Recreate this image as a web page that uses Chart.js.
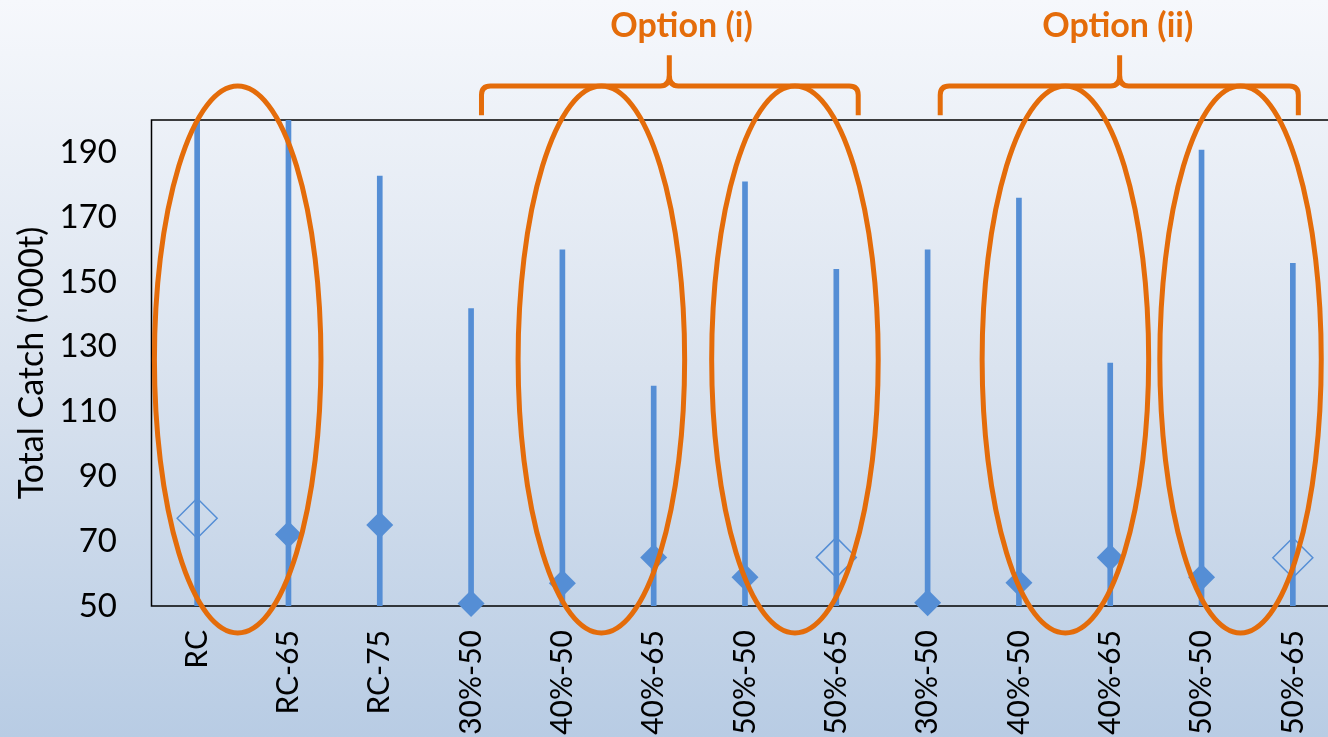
<!DOCTYPE html>
<html>
<head>
<meta charset="utf-8">
<script src="https://cdn.jsdelivr.net/npm/chart.js@4.4.1/dist/chart.umd.min.js"></script>
<style>
  html, body { margin: 0; padding: 0; width: 1328px; height: 737px; overflow: hidden; }
  body { background: linear-gradient(to bottom, #f6f8fc 0%, #dae3ef 50%, #b8cce4 100%); }
  #chart { display: block; }
</style>
</head>
<body>
<canvas id="chart" width="1360" height="760"></canvas>
<script>
// scenario labels along the x axis
const categories = ["RC", "RC-65", "RC-75", "30%-50", "40%-50", "40%-65", "50%-50", "50%-65",
  "30%-50", "40%-50", "40%-65", "50%-50", "50%-65"];
// total catch range ('000t) for each scenario
const rangeLow = [49.3, 49.3, 49.3, 49.3, 49.3, 49.3, 49.3, 49.3, 49.3, 49.3, 49.3, 49.3, 49.3];
const rangeHigh = [200, 200, 182.7, 141.8, 159.9, 117.9, 180.9, 153.9, 159.9, 175.9, 125.0, 190.7, 155.8];
// median markers: filled diamonds and open diamonds
const medianFilled = [null, 72.1, 75.0, 50.8, 57.0, 65.0, 58.9, null, 51.0, 57.2, 65.0, 58.9, null];
const medianOpen = [77.1, null, null, null, null, null, null, 65.0, null, null, null, null, 64.9];
const yTickValues = [50, 70, 90, 110, 130, 150, 170, 190];

// annotation shapes, in category-index / value units
const ellipseCenters = [0.444, 4.427, 6.547, 9.509, 11.427];
const ellipseHalfWidths = [0.912, 0.912, 0.912, 0.912, 0.884];
const ellipseMidValue = 126.1;
const ellipseHalfValue = 84.4;
const bracketLabels = ["Option (i)", "Option (ii)"];
const bracketLeft = [3.114, 8.138];
const bracketRight = [7.24, 12.06];
const bracketTip = [5.171, 10.103];
const bracketTextX = [5.305, 10.082];

const BLUE = "#558ED5";
const ORANGE = "#E46C0A";
const FONT = "Lato, 'Liberation Sans', sans-serif";

const plotBox = {
  id: "plotBox",
  beforeDatasetsDraw(chart) {
    const { ctx, chartArea: a } = chart;
    ctx.save();
    ctx.strokeStyle = "#000";
    ctx.lineWidth = 1.5;
    ctx.strokeRect(a.left, a.top, a.right - a.left, a.bottom - a.top);
    ctx.restore();
  },
};

const annotations = {
  id: "annotations",
  afterDraw(chart) {
    const { ctx } = chart;
    const x = chart.scales.x;
    const y = chart.scales.y;
    const px = (v) => x.getPixelForValue(v);
    const py = (v) => y.getPixelForValue(v);
    const unit = px(1) - px(0);
    ctx.save();
    ctx.strokeStyle = ORANGE;
    ctx.lineWidth = 5;
    ctx.lineJoin = "round";

    const cy = py(ellipseMidValue);
    const ry = Math.abs(py(ellipseMidValue + ellipseHalfValue) - cy);
    ellipseCenters.forEach((c, i) => {
      ctx.beginPath();
      ctx.ellipse(px(c), cy, ellipseHalfWidths[i] * unit, ry, 0, 0, Math.PI * 2);
      ctx.stroke();
    });

    const barY = py(210.5);
    const endY = py(201.5);
    const tipY = py(220);
    bracketLabels.forEach((label, i) => {
      const l = px(bracketLeft[i]);
      const r = px(bracketRight[i]);
      const t = px(bracketTip[i]);
      ctx.beginPath();
      ctx.moveTo(l, endY);
      ctx.lineTo(l, barY + 9);
      ctx.quadraticCurveTo(l, barY, l + 9, barY);
      ctx.lineTo(t - 9, barY);
      ctx.quadraticCurveTo(t, barY, t, barY - 11);
      ctx.lineTo(t, tipY);
      ctx.moveTo(t, barY - 11);
      ctx.quadraticCurveTo(t, barY, t + 9, barY);
      ctx.lineTo(r - 9, barY);
      ctx.quadraticCurveTo(r, barY, r, barY + 9);
      ctx.lineTo(r, endY);
      ctx.stroke();

      ctx.fillStyle = ORANGE;
      ctx.font = `bold 34px ${FONT}`;
      ctx.textAlign = "center";
      ctx.textBaseline = "alphabetic";
      ctx.fillText(label, px(bracketTextX[i]), py(225.6));
    });
    ctx.restore();
  },
};

new Chart(document.getElementById("chart"), {
  type: "bar",
  data: {
    labels: categories,
    datasets: [
      {
        label: "Range",
        data: rangeLow.map((lo, i) => [lo, rangeHigh[i]]),
        backgroundColor: BLUE,
        borderWidth: 0,
        barThickness: 5,
        order: 2,
      },
      {
        type: "line",
        label: "Median",
        data: medianFilled,
        showLine: false,
        clip: false,
        pointStyle: "rectRot",
        pointRadius: 13.5,
        pointBackgroundColor: BLUE,
        pointBorderColor: BLUE,
        pointBorderWidth: 0,
        order: 1,
      },
      {
        type: "line",
        label: "Median (open)",
        data: medianOpen,
        showLine: false,
        clip: false,
        pointStyle: "rectRot",
        pointRadius: 20,
        pointBackgroundColor: "rgba(0,0,0,0)",
        pointBorderColor: BLUE,
        pointBorderWidth: 1.5,
        order: 1,
      },
    ],
  },
  options: {
    responsive: false,
    animation: false,
    devicePixelRatio: 1,
    layout: { padding: { top: 120, right: 17.7, left: 0, bottom: 0 } },
    plugins: { legend: { display: false }, tooltip: { enabled: false } },
    scales: {
      x: {
        offset: true,
        grid: { display: false, drawTicks: false },
        border: { display: false },
        ticks: {
          autoSkip: false,
          minRotation: 90,
          maxRotation: 90,
          padding: 24,
          color: "#000",
          font: { family: FONT, size: 30 },
        },
        afterFit(s) {
          s.height = 154;
          s.paddingLeft = 0;
          s.paddingRight = 0;
        },
      },
      y: {
        min: 50,
        max: 200,
        grid: { display: false, drawTicks: false },
        border: { display: false },
        ticks: {
          padding: 34.5,
          color: "#000",
          font: { family: FONT, size: 33 },
        },
        afterBuildTicks(s) {
          s.ticks = yTickValues.map((v) => ({ value: v }));
        },
        afterFit(s) {
          s.width = 151.5;
        },
        title: {
          display: true,
          text: "Total Catch ('000t)",
          color: "#000",
          font: { family: FONT, size: 34 },
          padding: { top: 12, bottom: 0 },
        },
      },
    },
  },
  plugins: [plotBox, annotations],
});
</script>
</body>
</html>
